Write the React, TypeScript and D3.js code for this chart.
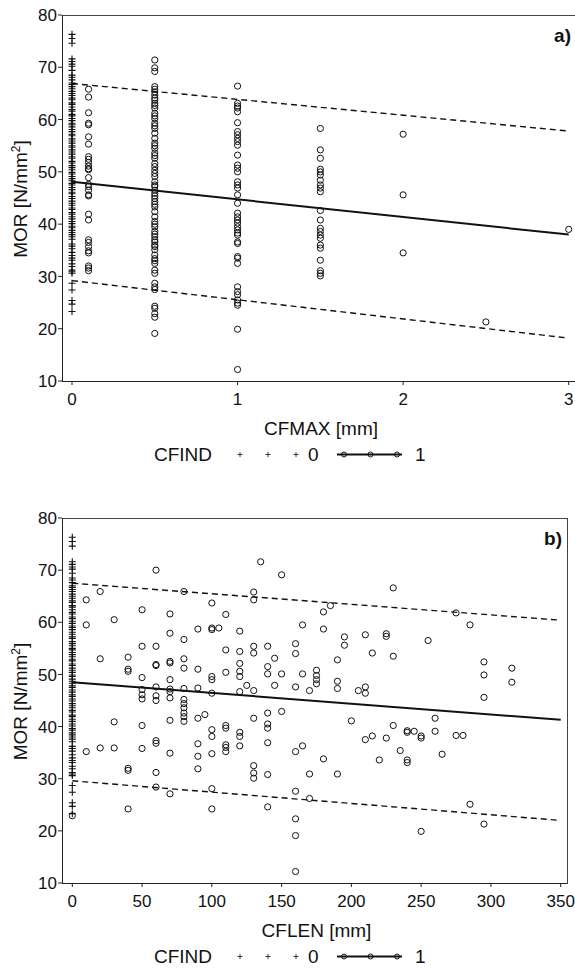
import React from "react";
import * as d3 from "d3";

const morTicks = [10, 20, 30, 40, 50, 60, 70, 80];
const cfmaxTicks = [0, 1, 2, 3];
const cflenTicks = [0, 50, 100, 150, 200, 250, 300, 350];

// CFIND = 0 : boards without crack, plotted at CFMAX = 0 and CFLEN = 0
const morNoCrack = [
  76.3, 75.5, 74.6, 71.6, 71.1, 70.6, 70.2, 69.4, 68.5, 68.1, 67.6, 67.0, 66.7,
  66.3, 65.9, 65.4, 65.0, 64.6, 64.1, 63.8, 63.2, 62.9, 62.4, 61.9, 61.6, 61.0,
  60.7, 60.2, 59.8, 59.3, 59.0, 58.6, 58.1, 57.7, 57.2, 56.9, 56.3, 55.9, 55.5,
  55.0, 54.7, 54.2, 53.8, 53.4, 52.9, 52.6, 52.0, 51.7, 51.2, 50.8, 50.4, 49.9,
  49.6, 49.1, 48.7, 48.3, 47.8, 47.5, 47.0, 46.6, 46.1, 45.8, 45.3, 44.9, 44.4,
  44.0, 43.6, 43.1, 42.8, 42.2, 41.9, 41.4, 41.0, 40.5, 40.1, 39.6, 39.3, 38.8,
  38.4, 38.0, 37.6, 37.1, 36.2, 35.8, 35.3, 34.6, 34.0, 33.5, 33.1, 32.4, 31.9,
  31.2, 30.9, 30.6, 28.7, 27.4, 25.4, 24.7, 23.3,
];

// CFIND = 1 : MOR grouped by CFMAX class
const cfmaxLevels = [0.1, 0.5, 1, 1.5, 2, 2.5, 3];
const morCfmax01 = [
  65.8, 64.3, 61.3, 59.3, 59.0, 56.7, 55.3, 52.9, 52.4, 51.8, 51.1, 50.6, 50.4,
  48.9, 47.6, 47.2, 46.5, 45.6, 45.4, 41.9, 40.8, 37.0, 36.5, 35.7, 34.9, 34.5,
  32.0, 31.6, 31.1,
];
const morCfmax05 = [
  71.4, 69.9, 69.2, 66.3, 65.8, 65.3, 64.7, 64.1, 63.7, 63.1, 62.7, 62.2, 61.2,
  60.7, 60.2, 59.3, 58.8, 58.3, 57.4, 56.4, 55.5, 55.0, 54.5, 53.6, 53.1, 52.6,
  51.6, 51.0, 50.3, 49.7, 49.1, 48.1, 47.5, 47.2, 46.5, 45.9, 45.4, 44.9, 44.3,
  43.8, 43.3, 42.4, 41.4, 40.5, 40.0, 39.5, 38.6, 38.1, 37.6, 37.0, 36.6, 36.0,
  35.7, 35.1, 34.1, 33.4, 33.0, 32.5, 31.2, 30.6, 28.7, 28.0, 27.5, 24.3, 23.9,
  22.9, 22.2, 19.1,
];
const morCfmax1 = [
  66.4, 63.1, 62.6, 62.2, 61.5, 59.4, 57.7, 57.1, 56.4, 55.8, 55.1, 53.2, 51.3,
  50.7, 50.0, 48.1, 47.5, 46.9, 45.6, 44.0, 42.1, 41.4, 40.8, 40.2, 39.5, 38.9,
  38.3, 37.9, 36.6, 36.3, 33.8, 33.5, 32.5, 28.0, 27.1, 26.5, 25.5, 24.9, 24.5,
  19.9, 12.2,
];
const morCfmax15 = [
  58.3, 54.2, 52.6, 50.5, 50.0, 49.4, 48.4, 47.5, 46.9, 46.2, 42.6, 40.8, 39.2,
  38.6, 37.9, 37.3, 36.0, 35.4, 33.1, 31.1, 30.6, 30.1,
];
const morCfmax2 = [57.2, 45.6, 34.5];
const morCfmax25 = [21.3];
const morCfmax3 = [39.0];
const morByCfmax = [morCfmax01, morCfmax05, morCfmax1, morCfmax15, morCfmax2, morCfmax25, morCfmax3];

// CFIND = 1 : [CFLEN, MOR]
const cflenMor: [number, number][] = [
  [0, 22.9], [10, 64.3], [10, 59.5], [10, 35.2], [20, 65.9], [20, 53.0], [20, 35.9],
  [30, 60.5], [30, 40.9], [30, 35.9], [40, 53.3], [40, 51.0], [40, 50.6], [40, 32.0],
  [40, 31.6], [40, 24.2], [50, 62.4], [50, 55.4], [50, 49.4], [50, 47.1], [50, 46.1],
  [50, 45.3], [50, 40.2], [50, 35.8], [60, 70.0], [60, 55.4], [60, 51.9], [60, 51.7],
  [60, 47.6], [60, 45.9], [60, 45.0], [60, 37.3], [60, 36.8], [60, 31.2], [60, 28.4],
  [70, 61.6], [70, 57.9], [70, 52.5], [70, 52.2], [70, 49.0], [70, 47.2], [70, 46.7],
  [70, 45.5], [70, 41.2], [70, 34.9], [70, 27.1], [80, 65.9], [80, 56.7], [80, 53.0],
  [80, 51.2], [80, 47.3], [80, 45.2], [80, 44.4], [80, 43.6], [80, 42.6], [80, 41.9],
  [80, 41.0], [90, 58.7], [90, 51.0], [90, 47.4], [90, 41.6], [90, 36.7], [90, 34.3],
  [90, 31.9], [95, 42.3], [100, 63.7], [100, 58.9], [100, 58.6], [100, 49.6], [100, 49.0],
  [100, 46.4], [100, 39.4], [100, 38.1], [100, 34.8], [100, 28.1], [100, 24.2], [105, 58.9],
  [110, 61.5], [110, 54.7], [110, 50.4], [110, 40.2], [110, 39.7], [110, 36.5], [110, 36.0],
  [110, 35.2], [120, 58.3], [120, 54.4], [120, 52.1], [120, 50.6], [120, 49.6], [120, 46.7],
  [120, 38.9], [120, 38.1], [120, 36.3], [125, 47.9], [130, 65.8], [130, 64.3], [130, 55.4],
  [130, 54.1], [130, 46.9], [130, 41.6], [130, 32.5], [130, 31.1], [130, 30.1], [135, 71.6],
  [140, 55.4], [140, 51.5], [140, 50.1], [140, 42.6], [140, 40.5], [140, 39.7], [140, 36.9],
  [140, 30.8], [140, 24.6], [145, 53.1], [145, 47.9], [150, 69.1], [150, 50.1], [150, 42.9],
  [160, 55.9], [160, 54.0], [160, 47.6], [160, 35.2], [160, 27.6], [160, 22.3], [160, 19.1],
  [160, 12.2], [165, 59.5], [165, 50.1], [165, 36.3], [170, 46.9], [170, 30.9], [170, 26.2],
  [175, 50.8], [175, 49.8], [175, 49.0], [175, 48.2], [180, 62.0], [180, 58.7], [180, 33.8],
  [185, 63.2], [190, 52.8], [190, 48.7], [190, 47.3], [190, 30.9], [195, 57.2], [195, 55.6],
  [200, 41.1], [205, 46.9], [210, 47.6], [210, 46.4], [210, 57.6], [210, 37.5], [215, 54.1],
  [215, 38.2], [220, 33.6], [225, 57.8], [225, 57.3], [225, 37.8], [230, 66.6], [230, 53.5],
  [230, 40.2], [235, 35.4], [240, 39.2], [240, 38.9], [240, 33.6], [240, 33.1], [245, 39.1],
  [250, 38.2], [250, 37.8], [250, 19.9], [255, 56.5], [260, 41.6], [260, 39.1], [265, 34.7],
  [275, 61.8], [275, 38.3], [280, 38.3], [285, 59.5], [285, 25.1], [295, 52.4], [295, 49.9],
  [295, 45.6], [295, 21.3], [315, 51.2], [315, 48.5],
];

// regression line and prediction band (start, end)
const fitCfmaxMean = [48.1, 38.0];
const fitCfmaxUpper = [66.9, 57.8];
const fitCfmaxLower = [29.2, 18.2];
const fitCflenMean = [48.5, 41.3];
const fitCflenUpper = [67.5, 60.4];
const fitCflenLower = [29.6, 22.0];

const FONT = "Arial, 'Liberation Sans', Helvetica, sans-serif";
const INK = "#111";

type Scale = d3.ScaleLinear<number, number>;

function plusPath(cx: number, cy: number, s: number) {
  return `M${cx - s},${cy}H${cx + s}M${cx},${cy - s}V${cy + s}`;
}

function Legend({ y }: { y: number }) {
  const my = y - 6.5;
  const plusX = [240, 268, 296];
  const circX = [344, 370.5, 397];
  return (
    <g fontFamily={FONT} fontSize={19} fill={INK}>
      <text x={154} y={y}>CFIND</text>
      {plusX.map((px) => (
        <path key={px} d={plusPath(px, my, 2.6)} stroke={INK} strokeWidth={0.8} />
      ))}
      <text x={308} y={y}>0</text>
      <line x1={337} x2={402} y1={my} y2={my} stroke={INK} strokeWidth={1.8} />
      {circX.map((cx) => (
        <circle key={cx} cx={cx} cy={my} r={2.5} fill="none" stroke={INK} strokeWidth={1} />
      ))}
      <text x={415} y={y}>1</text>
    </g>
  );
}

function Panel(props: {
  top: number; bottom: number; left: number; right: number;
  x: Scale; xTicks: number[]; xTitle: string; tag: string;
  zeroX: number; circles: [number, number][];
  xEnd: number; mean: number[]; upper: number[]; lower: number[];
}) {
  const { top, bottom, left, right, x, xTicks, xTitle, tag, circles } = props;
  const y = d3.scaleLinear().domain([10, 80]).range([bottom, top]);
  const line = d3.line<[number, number]>().x((d) => x(d[0])).y((d) => y(d[1]));
  const seg = (v: number[]) => line([[0, v[0]], [props.xEnd, v[1]]]) || "";
  return (
    <g fontFamily={FONT} fill={INK}>
      <rect x={left + 0.5} y={top + 0.5} width={right - left} height={bottom - top}
        fill="none" stroke="#444" strokeWidth={1} />
      <line x1={left + 0.5} x2={left + 0.5} y1={top} y2={bottom + 0.5} stroke="#222" />
      <line x1={left} x2={right} y1={bottom + 0.5} y2={bottom + 0.5} stroke="#222" />
      {morTicks.map((t) => (
        <g key={t}>
          <line x1={left - 4} x2={left} y1={y(t)} y2={y(t)} stroke="#222" />
          <text x={left - 5} y={y(t)} dy="0.36em" textAnchor="end" fontSize={17}>{t}</text>
        </g>
      ))}
      {xTicks.map((t) => (
        <g key={t}>
          <line x1={x(t)} x2={x(t)} y1={bottom} y2={bottom + 4} stroke="#222" />
          <text x={x(t)} y={bottom + 23.5} textAnchor="middle" fontSize={17}>{t}</text>
        </g>
      ))}
      <text x={(left + right) / 2 + 2} y={bottom + 53.5} textAnchor="middle" fontSize={19}>{xTitle}</text>
      <text transform={`translate(27,${(top + bottom) / 2 + 1}) rotate(-90)`} textAnchor="middle" fontSize={19}>
        MOR [N/mm<tspan fontSize={12} dy={-7}>2</tspan><tspan dy={7}>]</tspan>
      </text>
      <text x={right - 5} y={top + 27} textAnchor="end" fontSize={19} fontWeight="bold">{tag}</text>

      {morNoCrack.map((v, i) => (
        <path key={"p" + i} d={plusPath(x(props.zeroX), y(v), 3.5)} stroke={INK} strokeWidth={1.1} fill="none" />
      ))}
      {circles.map((d, i) => (
        <circle key={"c" + i} cx={x(d[0])} cy={y(d[1])} r={3.1} fill="none" stroke={INK} strokeWidth={1} />
      ))}
      <path d={seg(props.upper)} fill="none" stroke={INK} strokeWidth={1.4} strokeDasharray="6,4" />
      <path d={seg(props.lower)} fill="none" stroke={INK} strokeWidth={1.4} strokeDasharray="6,4" />
      <path d={seg(props.mean)} fill="none" stroke={INK} strokeWidth={2} />

      <Legend y={bottom + 80} />
    </g>
  );
}

export default function App() {
  const xMax = d3.scaleLinear().domain([0, 3]).range([72, 568.7]);
  const xLen = d3.scaleLinear().domain([0, 350]).range([72.3, 560.7]);
  const cfmaxPoints: [number, number][] = cfmaxLevels.flatMap((lv, i) =>
    morByCfmax[i].map((v) => [lv, v] as [number, number])
  );
  return (
    <svg width={575} height={970} style={{ position: "absolute", left: 0, top: 0, background: "white" }}>
      <rect width={575} height={970} fill="white" />
      <Panel top={15} bottom={381} left={62} right={576} x={xMax} xTicks={cfmaxTicks}
        xTitle="CFMAX [mm]" tag="a)" zeroX={0} circles={cfmaxPoints} xEnd={3}
        mean={fitCfmaxMean} upper={fitCfmaxUpper} lower={fitCfmaxLower} />
      <Panel top={518} bottom={883} left={62} right={567} x={xLen} xTicks={cflenTicks}
        xTitle="CFLEN [mm]" tag="b)" zeroX={0} circles={cflenMor} xEnd={350}
        mean={fitCflenMean} upper={fitCflenUpper} lower={fitCflenLower} />
    </svg>
  );
}
